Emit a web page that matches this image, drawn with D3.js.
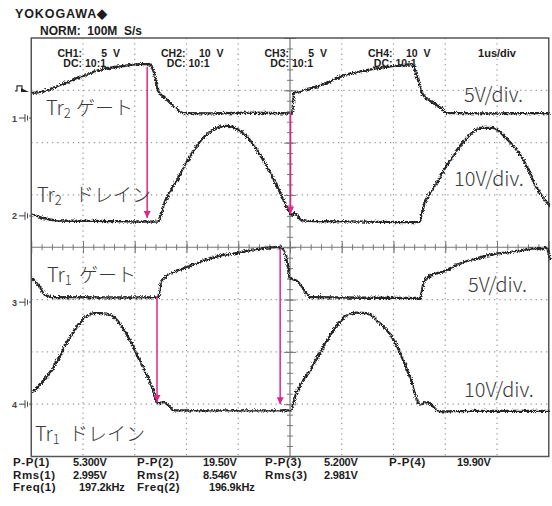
<!DOCTYPE html>
<html>
<head>
<meta charset="utf-8">
<script src="https://cdn.jsdelivr.net/npm/d3@7"></script>
<style>
  body { margin: 0; background: #fff; }
  .ui { font-family: "Liberation Sans", Arial, sans-serif; font-weight: bold; fill: #1c1c1c; }
  .lbl { font-family: "Noto Sans CJK JP", "Noto Sans", sans-serif; font-weight: 300; fill: #3a3a3a; }
</style>
</head>
<body>
<div id="scope"></div>
<script>
// scope settings (1us/div, 10 x 8 divisions)
var timeDivs = [0, 1, 2, 3, 4, 5, 6, 7, 8, 9, 10];
var voltDivs = [-4, -3, -2, -1, 0, 1, 2, 3, 4];
var channelNames = ["CH1", "CH2", "CH3", "CH4"];
var voltsPerDiv = [5, 10, 5, 10];
var groundDiv = [2.47, 0.6, -1.05, -3.0];
var probeLabels = ["10:1", "10:1", "10:1", "10:1"];

// traces: [time us, volts]
var tr2Gate = [[0,2.5],[0.17,2.6],[0.56,3.3],[0.95,4.1],[1.33,4.75],[1.72,5.05],[2.1,5.25],[2.26,5.25],[2.34,4.6],
  [2.43,2.7],[2.59,1.9],[2.78,1.05],[2.92,0.57],[3.5,0.55],[4.2,0.6],[5.0,0.55],[5.02,0.6],[5.06,2.5],[5.19,2.7],
  [5.58,3.25],[5.97,4.1],[6.54,4.75],[7.12,5.15],[7.34,5.25],[7.43,4.1],[7.53,2.5],[7.7,1.7],[7.9,1.05],[8.01,0.57],
  [9.0,0.55],[10,0.57]];
var tr2Drain = [[0,0.5],[0.2,-0.2],[0.5,-0.7],[1.5,-0.8],[2.43,-0.9],[2.5,1.2],[2.6,3.8],[2.8,7.2],[3.0,10.8],[3.2,13.9],
  [3.4,16.0],[3.6,17.2],[3.75,17.4],[3.9,17.1],[4.1,15.8],[4.3,13.4],[4.5,10.2],[4.7,6.5],[4.9,2.3],[5.02,0.4],
  [5.06,0.6],[5.1,0.4],[5.2,-0.6],[5.4,-0.8],[6.5,-0.9],[7.48,-1.0],[7.55,1.7],[7.8,6.3],[8.1,11.3],[8.4,15.1],
  [8.65,17.0],[8.9,17.0],[9.15,15.1],[9.5,10.7],[9.75,5.5],[10,2.1]];
var tr1Gate = [[0,2.4],[0.12,1.7],[0.23,0.86],[0.37,0.57],[1.5,0.55],[2.43,0.57],[2.49,2.1],[2.63,2.75],[2.93,3.35],
  [3.26,4.0],[3.59,4.5],[3.9,4.75],[4.29,5.15],[4.73,5.35],[4.83,5.25],[4.92,4.0],[4.98,2.4],[5.12,2.1],[5.31,0.86],
  [5.37,0.57],[6.5,0.52],[7.49,0.5],[7.57,2.1],[7.68,2.6],[7.95,3.05],[8.26,3.8],[8.59,4.3],[8.92,4.7],[9.23,4.9],
  [9.75,5.25],[9.94,5.25],[10,4.2]];
var tr1Drain = [[0,2.5],[0.37,6.7],[0.69,12.4],[0.95,16.2],[1.2,17.6],[1.33,17.6],[1.53,17.2],[1.78,14.3],[2.1,8.0],
  [2.3,3.8],[2.43,0.4],[2.55,0.6],[2.64,-0.2],[2.74,-1.0],[3.5,-1.0],[4.98,-1.0],[5.12,2.9],[5.37,6.7],[5.69,12.4],
  [6.02,16.8],[6.27,17.7],[6.47,17.6],[6.66,16.2],[6.99,12.4],[7.3,5.3],[7.49,0.1],[7.62,0.6],[7.88,-1.2],
  [8.5,-1.1],[10,-1.1]];
var traces = [tr2Gate, tr2Drain, tr1Gate, tr1Drain];

// timing arrows: time, [channel, volts] start -> [channel, volts] end
var arrowTimes = [2.24, 5.01, 2.43, 4.81];
var arrowFrom = [[0, 4.9], [0, 0.5], [2, 0.5], [2, 5.1]];
var arrowTo = [[1, -0.4], [1, 0.4], [3, 0.4], [3, 0.0]];

// measurement readout
var measNames = [["P-P(1)", "P-P(2)", "P-P(3)", "P-P(4)"], ["Rms(1)", "Rms(2)", "Rms(3)"], ["Freq(1)", "Freq(2)"]];
var measValues = [["5.300V", "19.50V", "5.200V", "19.90V"], ["2.995V", "8.546V", "2.981V"], ["197.2kHz", "196.9kHz"]];

var W = 552, H = 506;
var frame = {left: 31.25, right: 548.75, top: 38, bottom: 456.5};

var svg = d3.select("#scope").append("svg")
    .attr("width", W).attr("height", H);

var defs = svg.append("defs");
var f = defs.append("filter").attr("id", "jitter")
    .attr("x", "-2%").attr("y", "-10%").attr("width", "104%").attr("height", "120%");
f.append("feTurbulence").attr("type", "turbulence").attr("baseFrequency", "1.1")
    .attr("numOctaves", 1).attr("seed", 4).attr("result", "n");
f.append("feDisplacementMap").attr("in", "SourceGraphic").attr("in2", "n")
    .attr("scale", 3.5).attr("xChannelSelector", "R").attr("yChannelSelector", "G");
defs.append("marker").attr("id", "head")
    .attr("viewBox", "0 0 10 10").attr("refX", 10).attr("refY", 5)
    .attr("markerUnits", "userSpaceOnUse").attr("markerWidth", 10).attr("markerHeight", 7)
    .attr("orient", "auto")
  .append("path").attr("d", "M0,0 L10,5 L0,10 z").attr("fill", "#e3238c");

var x = d3.scaleLinear().domain([0, 10]).range([frame.left, frame.right]);
var yDiv = d3.scaleLinear().domain([-4, 4]).range([frame.bottom, frame.top]);
// one volts scale per channel
var ys = voltsPerDiv.map(function(v, i) {
  return d3.scaleLinear()
    .domain([(-4 - groundDiv[i]) * v, (4 - groundDiv[i]) * v])
    .range([frame.bottom, frame.top]);
});

// header
svg.append("text").attr("class", "ui").attr("x", 15).attr("y", 18)
    .style("font-size", "12.5px").style("letter-spacing", "0.9px").text("YOKOGAWA\u25C6");
svg.append("text").attr("class", "ui").attr("x", 40).attr("y", 35)
    .style("font-size", "12px").attr("xml:space", "preserve").style("white-space", "pre")
    .text("NORM:  100M  S/s");

// dotted grid
var grid = svg.append("g").attr("stroke", "#9a9a9a").attr("stroke-width", 1.2)
    .attr("stroke-dasharray", "1.3,3.9");
grid.selectAll("line.v").data(timeDivs.filter(function(d) { return d > 0 && d < 10 && d != 5; }))
  .enter().append("line")
    .attr("x1", function(d) { return x(d); }).attr("x2", function(d) { return x(d); })
    .attr("y1", frame.top).attr("y2", frame.bottom);
grid.selectAll("line.h").data(voltDivs.filter(function(d) { return d > -4 && d < 4 && d != 0; }))
  .enter().append("line")
    .attr("y1", function(d) { return yDiv(d); }).attr("y2", function(d) { return yDiv(d); })
    .attr("x1", frame.left).attr("x2", frame.right);

// center axes with minor ticks
var minorX = d3.range(0, 50).map(function(i) { return i / 5; }).slice(1);
var minorY = d3.range(-20, 20).map(function(i) { return i / 5; }).slice(1);
var axG = svg.append("g").attr("color", "#777");
axG.append("g").attr("transform", "translate(0," + (yDiv(0) - 3) + ")")
    .call(d3.axisBottom(x).tickValues(minorX).tickSize(6).tickSizeOuter(0).tickFormat(""))
    .call(function(g) { g.select(".domain").remove(); });
axG.append("g").attr("transform", "translate(0," + (yDiv(0) - 6) + ")")
    .call(d3.axisBottom(x).tickValues(timeDivs).tickSize(12).tickSizeOuter(0).tickFormat(""))
    .call(function(g) { g.select(".domain").remove(); });
axG.append("g").attr("transform", "translate(" + (x(5) + 3) + ",0)")
    .call(d3.axisLeft(yDiv).tickValues(minorY).tickSize(6).tickSizeOuter(0).tickFormat(""))
    .call(function(g) { g.select(".domain").remove(); });
axG.append("g").attr("transform", "translate(" + (x(5) + 6) + ",0)")
    .call(d3.axisLeft(yDiv).tickValues(voltDivs).tickSize(12).tickSizeOuter(0).tickFormat(""))
    .call(function(g) { g.select(".domain").remove(); });
axG.append("line").attr("x1", frame.left).attr("x2", frame.right)
    .attr("y1", yDiv(0)).attr("y2", yDiv(0)).attr("stroke", "#777").attr("stroke-width", 1.2);
axG.append("line").attr("x1", x(5)).attr("x2", x(5))
    .attr("y1", frame.top).attr("y2", frame.bottom).attr("stroke", "#777").attr("stroke-width", 1.2);

// frame
svg.append("rect").attr("x", frame.left).attr("y", frame.top)
    .attr("width", frame.right - frame.left).attr("height", frame.bottom - frame.top)
    .attr("fill", "none").attr("stroke", "#555").attr("stroke-width", 1.5);

// channel header inside frame
channelNames.forEach(function(name, i) {
  var cx = x(2 * i + 1) - 1;
  svg.append("text").attr("class", "ui").attr("x", cx).attr("y", 56.5)
      .attr("text-anchor", "end").style("font-size", "10.5px").text(name + ":");
  svg.append("text").attr("class", "ui").attr("x", cx + 38).attr("y", 56.5)
      .attr("text-anchor", "end").style("font-size", "10.5px").attr("xml:space", "preserve")
      .style("white-space", "pre").text(voltsPerDiv[i] + "  V");
  svg.append("text").attr("class", "ui").attr("x", cx).attr("y", 67)
      .attr("text-anchor", "end").style("font-size", "10.5px").text("DC:");
  svg.append("text").attr("class", "ui").attr("x", cx + 3).attr("y", 67)
      .style("font-size", "10.5px").text(probeLabels[i]);
});
svg.append("text").attr("class", "ui").attr("x", x(9)).attr("y", 57)
    .attr("text-anchor", "middle").style("font-size", "11px").text("1us/div");

// ground markers and trigger marker on the left
channelNames.forEach(function(name, i) {
  var gy = yDiv(groundDiv[i]);
  var m = svg.append("g").attr("stroke", "#444").attr("stroke-width", 1);
  m.append("path").attr("d", "M19," + gy + " h6 M25," + (gy - 4) + " v8 M27.5," + (gy - 2.5) + " v5 M30," + (gy - 1) + " v2");
  svg.append("text").attr("class", "ui").attr("x", 12).attr("y", gy + 3.5)
      .style("font-size", "9px").style("fill", "#444").text(i + 1);
});
var trigY = ys[0](2.5);
svg.append("path").attr("d", "M15," + (trigY - 1) + " h2 v-5 h5 v5 h2")
    .attr("fill", "none").attr("stroke", "#333").attr("stroke-width", 1.2);
svg.append("path").attr("d", "M21," + (trigY - 4) + " L29," + trigY + " L21," + trigY + " z").attr("fill", "#222");

// traces
traces.forEach(function(tr, i) {
  var line = d3.line()
      .x(function(d) { return x(d[0]); })
      .y(function(d) { return ys[i](d[1]); })
      .curve(d3.curveMonotoneX);
  svg.append("path").datum(tr)
      .attr("d", line)
      .attr("fill", "none")
      .attr("stroke", "#262626")
      .attr("stroke-width", 2.3)
      .attr("filter", "url(#jitter)");
});

// pink arrows
arrowTimes.forEach(function(t, i) {
  svg.append("line")
      .attr("x1", x(t)).attr("x2", x(t))
      .attr("y1", ys[arrowFrom[i][0]](arrowFrom[i][1]))
      .attr("y2", ys[arrowTo[i][0]](arrowTo[i][1]))
      .attr("stroke", "#e3238c").attr("stroke-width", 1.5)
      .attr("marker-end", "url(#head)");
});

// annotation labels
function trLabel(px, py, sub, kanaX, kana) {
  var t = svg.append("text").attr("class", "lbl").attr("x", px).attr("y", py).style("font-size", "20px");
  t.append("tspan").text("Tr");
  t.append("tspan").attr("dy", 3).style("font-size", "13px").text(sub);
  t.append("tspan").attr("x", kanaX).attr("dy", -3).style("font-size", "19px").text(kana);
}
trLabel(46, 115, "2", 76, "ゲート");
trLabel(37, 202, "2", 75, "ドレイン");
trLabel(47, 282, "1", 79, "ゲート");
trLabel(35, 441, "1", 69, "ドレイン");
function divLabel(px, py, txt) {
  svg.append("text").attr("class", "lbl").attr("x", px).attr("y", py).style("font-size", "20px").text(txt);
}
divLabel(464, 102, "5V/div.");
divLabel(454, 186, "10V/div.");
divLabel(468, 292, "5V/div.");
divLabel(464, 397, "10V/div.");

// measurement readout below the frame
var colName = [13, 137, 265, 389];
var colVal = [73, 203, 324, 457];
measNames.forEach(function(row, r) {
  row.forEach(function(nm, c) {
    svg.append("text").attr("class", "ui").attr("x", colName[c]).attr("y", 466 + r * 12.5)
        .style("font-size", "11.5px").style("letter-spacing", "0.6px").text(nm);
    svg.append("text").attr("class", "ui").attr("x", colVal[c] + (r == 2 ? 6 : 0)).attr("y", 466 + r * 12.5)
        .style("font-size", "11px").style("letter-spacing", "-0.2px").text(measValues[r][c]);
  });
});
</script>
</body>
</html>
